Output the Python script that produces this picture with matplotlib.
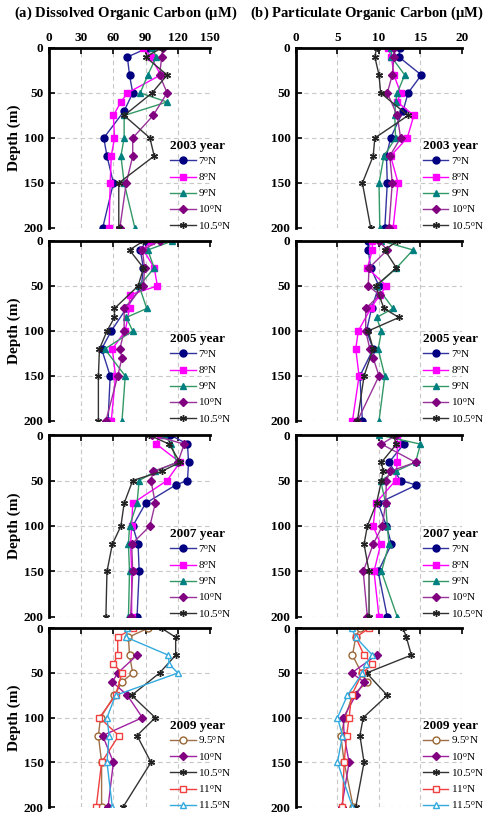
import matplotlib
matplotlib.use("Agg")
import matplotlib.pyplot as plt

plt.rcParams["font.family"] = ["Liberation Serif", "DejaVu Serif"]
plt.rcParams["mathtext.fontset"] = "custom"
plt.rcParams["mathtext.rm"] = "Liberation Serif"
plt.rcParams["mathtext.it"] = "Liberation Serif:italic"
plt.rcParams["mathtext.bf"] = "Liberation Serif:bold"

# ---------------- data (depth in m, concentration in uM) ----------------
years = ["2003", "2005", "2007", "2009"]

# DOC 2003
doc03_depth = {
    "7": [0, 10, 30, 50, 70, 100, 120, 150, 200],
    "8": [0, 10, 30, 50, 60, 75, 100, 120, 150, 200],
    "9": [0, 10, 30, 50, 60, 75, 100, 120, 150, 200],
    "10": [0, 10, 30, 50, 75, 100, 120, 150, 200],
    "10.5": [0, 10, 30, 50, 75, 100, 120, 150, 200],
}
doc03 = {
    "7": [92, 73, 75, 78, 70, 51, 54, 60, 50],
    "8": [88, 95, 104, 73, 67, 60, 61, 58, 57, 56],
    "9": [96, 100, 92, 85, 110, 70, 70, 67, 70, 80],
    "10": [106, 105, 103, 110, 97, 78, 78, 72, 66],
    "10.5": [105, 90, 110, 96, 70, 94, 98, 65, 65],
}

# DOC 2005
doc05_depth = {
    "7": [0, 10, 30, 50, 75, 100, 120, 150, 200],
    "8": [0, 10, 30, 50, 60, 75, 100, 120, 150, 200],
    "9": [0, 10, 30, 50, 75, 85, 100, 120, 150, 200],
    "10": [0, 10, 30, 50, 75, 100, 120, 130, 150, 200],
    "10.5": [0, 10, 30, 50, 75, 85, 100, 120, 150, 200],
}
doc05 = {
    "7": [91, 85, 88, 86, 72, 58, 49, 57, 55],
    "8": [95, 88, 98, 101, 75, 75, 71, 59, 62, 58],
    "9": [115, 92, 98, 84, 91, 72, 78, 52, 71, 68],
    "10": [103, 87, 89, 88, 70, 70, 66, 68, 64, 53],
    "10.5": [88, 75, 88, 83, 61, 61, 54, 47, 46, 46],
}

# DOC 2007
doc07_depth = {
    "7": [0, 10, 30, 50, 55, 75, 100, 120, 150, 200],
    "8": [0, 10, 30, 50, 75, 100, 120, 150, 200],
    "9": [0, 10, 30, 40, 50, 75, 100, 120, 150, 200],
    "10": [0, 10, 30, 40, 50, 75, 100, 120, 150, 200],
    "10.5": [0, 10, 30, 40, 50, 75, 100, 120, 150, 200],
}
doc07 = {
    "7": [113, 129, 130, 129, 118, 90, 78, 83, 84, 82],
    "8": [103, 100, 122, 110, 78, 77, 76, 77, 77],
    "9": [107, 114, 119, 99, 84, 82, 75, 74, 75, 74],
    "10": [96, 126, 120, 97, 95, 99, 94, 77, 78, 76],
    "10.5": [93, 112, 122, 105, 78, 70, 67, 59, 54, 53],
}

# DOC 2009
doc09_depth = {
    "9.5": [0, 10, 30, 50, 60, 75, 100, 120, 150, 200],
    "10": [30, 50, 60, 75, 100, 120, 150, 200],
    "10.5": [0, 10, 30, 50, 75, 100, 120, 150, 200],
    "11": [0, 10, 30, 40, 50, 75, 100, 120, 150, 200],
    "11.5": [0, 10, 30, 40, 50, 75, 100, 120, 150, 200],
}
doc09 = {
    "9.5": [92, 74, 75, 78, 68, 61, 48, 46, 49, 49],
    "10": [82, 64, 59, 73, 87, 50, 60, 55],
    "10.5": [105, 118, 118, 103, 77, 99, 82, 95, 69],
    "11": [78, 64, 64, 60, 68, 62, 47, 65, 49, 44],
    "11.5": [73, 72, 111, 112, 120, 62, 54, 56, 54, 59],
}

# POC 2003
poc03_depth = doc03_depth
poc03 = {
    "7": [12.5, 12.4, 15.1, 13.5, 12.9, 11.4, 10.9, 11.0, 10.7],
    "8": [11.1, 11.5, 11.8, 12.6, 12.2, 14.2, 13.4, 11.4, 12.3, 11.7],
    "9": [11.5, 11.5, 13.1, 12.2, 12.0, 11.9, 12.0, 10.6, 10.0, 10.1],
    "10": [11.8, 11.8, 11.6, 11.0, 12.2, 12.6, 11.3, 11.6, 11.2],
    "10.5": [9.7, 9.5, 10.0, 10.2, 13.5, 9.5, 9.3, 8.0, 9.0],
}

# POC 2005
poc05_depth = {
    "7": [0, 10, 30, 50, 75, 100, 120, 150, 200],
    "8": [0, 10, 30, 50, 60, 75, 100, 120, 150, 200],
    "9": [0, 10, 30, 50, 75, 85, 100, 120, 150, 200],
    "10": [0, 10, 30, 50, 60, 75, 100, 120, 130, 150, 200],
    "10.5": [0, 10, 30, 50, 75, 85, 100, 120, 150, 200],
}
poc05 = {
    "7": [8.7, 8.7, 9.0, 10.0, 9.1, 8.5, 9.3, 7.7, 8.0],
    "8": [9.2, 9.2, 8.6, 10.9, 10.1, 9.0, 7.5, 7.2, 7.6, 6.8],
    "9": [10.3, 14.1, 12.1, 9.7, 11.7, 9.7, 10.3, 9.9, 10.7, 10.0],
    "10": [10.0, 11.0, 8.8, 8.7, 10.1, 8.4, 8.4, 8.9, 9.3, 10.0, 7.4],
    "10.5": [12.2, 10.7, 12.1, 9.6, 10.6, 12.4, 8.7, 9.3, 8.2, 7.4],
}

# POC 2007
poc07_depth = {
    "7": [0, 10, 30, 50, 55, 75, 100, 120, 150, 200],
    "8": [0, 10, 30, 50, 75, 100, 120, 150, 200],
    "9": [0, 10, 30, 40, 50, 75, 100, 120, 150, 200],
    "10": [0, 10, 30, 40, 50, 75, 100, 120, 150, 200],
    "10.5": [0, 10, 30, 40, 50, 75, 100, 120, 150, 200],
}
poc07 = {
    "7": [12.2, 13.0, 11.2, 12.6, 14.5, 9.9, 10.9, 11.5, 9.9, 11.0],
    "8": [12.2, 12.2, 12.2, 12.0, 9.6, 9.3, 10.2, 9.4, 10.0],
    "9": [10.0, 15.0, 14.4, 12.0, 10.2, 10.8, 11.0, 11.2, 10.3, 12.2],
    "10": [12.1, 10.3, 14.4, 11.3, 10.9, 10.8, 10.4, 9.3, 8.1, 8.6],
    "10.5": [11.7, 12.1, 10.3, 10.5, 10.3, 9.7, 8.6, 8.2, 8.8, 8.8],
}

# POC 2009
poc09_depth = doc09_depth
poc09 = {
    "9.5": [7.7, 7.2, 6.8, 7.9, 8.6, 6.8, 5.9, 5.4, 5.8, 6.9],
    "10": [9.7, 6.7, 8.2, 7.2, 5.7, 5.8, 6.4, 5.5],
    "10.5": [12.9, 13.3, 13.9, 8.5, 11.0, 8.1, 7.7, 8.2, 7.2],
    "11": [8.8, 7.2, 8.2, 9.2, 8.0, 6.7, 6.4, 6.1, 5.8, 5.6],
    "11.5": [6.7, 7.2, 9.2, 8.4, 8.0, 6.2, 5.0, 5.6, 5.0, 6.8],
}

# ---------------- styles ----------------
style_a = {
    "7": dict(color="#3333a0", marker="o", mfc="#000080", mec="#000080"),
    "8": dict(color="#ff00ff", marker="s", mfc="#ff00ff", mec="#ff00ff"),
    "9": dict(color="#339966", marker="^", mfc="#008080", mec="#008080"),
    "10": dict(color="#993399", marker="D", mfc="#800080", mec="#800080", ms=4),
    "10.5": dict(color="#333333", marker=(6, 2, 0), mfc="k", mec="#222222"),
}
style_b = {
    "9.5": dict(color="#a0704a", marker="o", mfc="white", mec="#996633"),
    "10": dict(color="#a020a0", marker="D", mfc="#800080", mec="#800080", ms=4),
    "10.5": dict(color="#333333", marker=(6, 2, 0), mfc="k", mec="#222222"),
    "11": dict(color="#f04040", marker="s", mfc="white", mec="#f04040"),
    "11.5": dict(color="#33aadd", marker="^", mfc="white", mec="#33aadd"),
}

fig = plt.figure(figsize=(4.93, 8.16), dpi=100)

rows = [  # bottom, height (figure fraction)
    (0.7206, 0.2206),
    (0.4841, 0.2206),
    (0.2439, 0.2230),
    (0.0110, 0.2190),
]
left_a, width_a = 0.0994, 0.3266
left_b, width_b = 0.6004, 0.3367

doc_sets = [(doc03_depth, doc03), (doc05_depth, doc05), (doc07_depth, doc07), (doc09_depth, doc09)]
poc_sets = [(poc03_depth, poc03), (poc05_depth, poc05), (poc07_depth, poc07), (poc09_depth, poc09)]


def draw_panel(ax, depths, values, xmax, xstep, year, top_labels, ylabel, leg_x):
    styles = style_b if year == "2009" else style_a
    for lat in values:
        st = dict(styles[lat])
        ms = st.pop("ms", 5)
        ax.plot(values[lat], depths[lat], lw=1.0, ms=ms, mew=1.0,
                label=lat + r"$^{\rm o}$N", **st)
    ax.set_xlim(0, xmax)
    ax.set_ylim(200, 0)
    ax.set_xticks(range(0, xmax + 1, xstep))
    ax.set_yticks([0, 50, 100, 150, 200])
    ax.xaxis.tick_top()
    ax.tick_params(axis="x", direction="in", length=4, width=1.2,
                   labeltop=top_labels, labelsize=9.5, pad=3)
    ax.tick_params(axis="y", direction="in", length=4, width=1.2,
                   labelsize=9.5, pad=4)
    for lab in ax.get_xticklabels() + ax.get_yticklabels():
        lab.set_fontweight("bold")
    ax.grid(True, ls=(0, (4, 3)), color="#c8c8c8", lw=0.8)
    ax.set_axisbelow(True)
    for side in ["right", "bottom"]:
        ax.spines[side].set_visible(False)
    for side in ["top", "left"]:
        ax.spines[side].set_linewidth(2.0)
    if ylabel:
        ax.set_ylabel("Depth (m)", fontsize=11, fontweight="bold", labelpad=2)
    leg = ax.legend(loc="upper left", bbox_to_anchor=(leg_x, 0.52), frameon=False,
                    title=year + " year", fontsize=8, handlelength=2.3,
                    handletextpad=0.2, labelspacing=0.38, borderpad=0,
                    title_fontproperties={"weight": "bold", "size": 9.5})
    leg._legend_box.align = "left"
    leg._legend_box.sep = 2


for i, (bottom, height) in enumerate(rows):
    ax_a = fig.add_axes([left_a, bottom, width_a, height])
    d, v = doc_sets[i]
    draw_panel(ax_a, d, v, 150, 30, years[i], i == 0, True, 0.72)
    ax_b = fig.add_axes([left_b, bottom, width_b, height])
    d, v = poc_sets[i]
    draw_panel(ax_b, d, v, 20, 5, years[i], i == 0, False, 0.73)

fig.text(0.255, 0.984, r"(a) Dissolved Organic Carbon ($\mathbf{\mu}$M)", ha="center",
         va="center", fontsize=10.5, fontweight="bold")
fig.text(0.745, 0.984, r"(b) Particulate Organic Carbon ($\mathbf{\mu}$M)", ha="center",
         va="center", fontsize=10.5, fontweight="bold")

fig.savefig("out.png", dpi=100)
